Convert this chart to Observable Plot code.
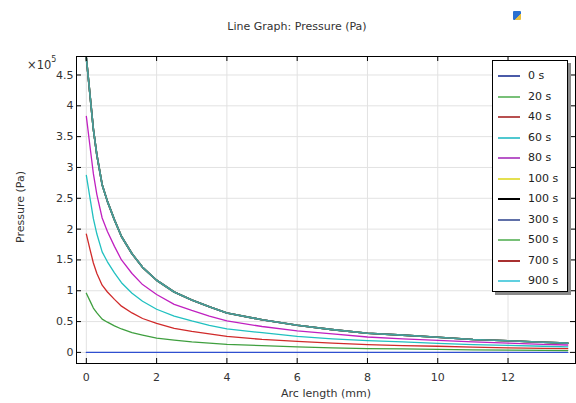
<!DOCTYPE html>
<html><head><meta charset="utf-8">
<script src="https://cdn.jsdelivr.net/npm/d3@7"></script>
<script src="https://cdn.jsdelivr.net/npm/@observablehq/plot@0.6"></script>
<style>
body{margin:0;background:#fff;}
#wrap{position:relative;width:576px;height:403px;font-family:"DejaVu Sans",sans-serif;color:#222;overflow:hidden;background:#fff}
#chart{position:absolute;left:0;top:0}
.t{position:absolute;font-size:11px;white-space:nowrap;line-height:1}
#legend{position:absolute;left:492px;top:60px;width:76px;height:232px;box-sizing:border-box;border:1px solid #000;background:#fff;box-shadow:3px 3px 0 #8a8a8a}
.row{position:absolute;left:0;height:14px;width:74px}
.sw{position:absolute;left:5px;top:6px;width:22px;height:2px}
.lb{position:absolute;left:35px;top:0;font-size:11px;line-height:14px;color:#222}
</style></head><body>
<div id="wrap">
  <div id="chart"></div>
  <div class="t" style="left:297px;top:21px;transform:translateX(-50%);color:#333">Line Graph: Pressure (Pa)</div>
  <div style="position:absolute;left:513px;top:11px;width:8px;height:9px;background:linear-gradient(135deg,#2a6fd0 60%,#e8c040 60%);border-radius:1px"></div>
  <div class="t" style="left:27px;top:58px;color:#333;font-size:11.5px">×10<sup style="font-size:8px;position:relative;top:-2px">5</sup></div>
  <div class="t" style="left:20px;top:207px;transform:translate(-50%,-50%) rotate(-90deg);color:#333">Pressure (Pa)</div>
  <div class="t" style="left:326px;top:388px;transform:translateX(-50%);color:#333">Arc length (mm)</div>
  <div id="legend"></div>
</div>
<script>
// Arc length sample positions (mm)
const arcLength = [0,0.1,0.2,0.3,0.45,0.6,0.8,1.0,1.3,1.6,2,2.5,3,3.5,4,5,6,7,8,9,10,11,12,13,13.7];
// Pressure readings, in units of 1e5 Pa
const p0s   = [0,0,0,0,0,0,0,0,0,0,0,0,0,0,0,0,0,0,0,0,0,0,0,0,0];
const p20s  = [0.96,0.84,0.72,0.64,0.54,0.49,0.43,0.38,0.32,0.28,0.23,0.20,0.17,0.15,0.13,0.11,0.09,0.075,0.062,0.056,0.049,0.042,0.038,0.033,0.03];
const p40s  = [1.92,1.68,1.45,1.28,1.09,0.98,0.86,0.75,0.64,0.55,0.47,0.39,0.34,0.30,0.26,0.21,0.18,0.15,0.125,0.11,0.10,0.085,0.075,0.065,0.06];
const p60s  = [2.87,2.52,2.17,1.92,1.63,1.47,1.29,1.13,0.96,0.83,0.70,0.59,0.51,0.44,0.38,0.32,0.26,0.22,0.19,0.17,0.145,0.125,0.115,0.10,0.09];
const p80s  = [3.83,3.36,2.90,2.56,2.18,1.96,1.72,1.50,1.28,1.10,0.94,0.78,0.68,0.59,0.51,0.42,0.35,0.30,0.25,0.22,0.195,0.17,0.15,0.13,0.12];
const p100s = [4.78,4.20,3.62,3.20,2.72,2.45,2.15,1.88,1.60,1.38,1.17,0.98,0.85,0.74,0.64,0.53,0.44,0.37,0.31,0.28,0.245,0.21,0.19,0.165,0.15];
// Later times coincide with the 100 s curve in the reference
const p300s = p100s, p500s = p100s, p700s = p100s, p900s = p100s;

const seriesLabels = ["0 s","20 s","40 s","60 s","80 s","100 s","100 s","300 s","500 s","700 s","900 s"];
const seriesValues = [p0s,p20s,p40s,p60s,p80s,p100s,p100s,p300s,p500s,p700s,p900s];
const seriesColors = ["#2f4fd0","#3f9f3f","#d02a2a","#20c0c0","#c020c0","#c8c020","#000000","#2f4fd0","#3f9f3f","#d02a2a","#20c0c0"];
const legendColors = ["#4a5aa8","#78c078","#b85050","#50c8d0","#b858c8","#e4e050","#000000","#6070a8","#78c078","#a83030","#60d0e0"];
const xTicks = [0,2,4,6,8,10,12];
const yTicks = [0,0.5,1,1.5,2,2.5,3,3.5,4,4.5];

const rows = [];
seriesValues.forEach((vals, s) => vals.forEach((p, i) => rows.push({x: arcLength[i], p, s, c: seriesColors[s]})));

const width = 576, height = 403, mL = 76, mR = 1, mT = 56, mB = 40;
const H = height - mT - mB, W = width - mL - mR;

const chart = Plot.plot({
  width, height, marginLeft: mL, marginRight: mR, marginTop: mT, marginBottom: mB,
  style: {fontFamily: "DejaVu Sans, sans-serif", fontSize: "11px", color: "#333", background: "#fff"},
  x: {domain: [-0.28, 13.92], label: null},
  y: {domain: [-0.18, 4.8], label: null},
  color: {type: "identity"},
  marks: [
    Plot.gridX(xTicks, {stroke: "#e2e2e2", strokeOpacity: 1}),
    Plot.gridY(yTicks, {stroke: "#e2e2e2", strokeOpacity: 1}),
    Plot.line(rows.filter(d => d.s < 5), {x: "x", y: "p", z: "s", stroke: "c", strokeWidth: 1.3}),
    Plot.line(rows.filter(d => d.s >= 5), {x: "x", y: "p", z: "s", stroke: "c", strokeWidth: 1.6, strokeOpacity: 0.75}),
    Plot.frame({stroke: "#000"}),
    Plot.tickX(xTicks, {x: d => d, insetTop: H - 5, stroke: "#000"}),
    Plot.tickX(xTicks, {x: d => d, insetBottom: H - 5, stroke: "#000"}),
    Plot.tickY(yTicks, {y: d => d, insetRight: W - 5, stroke: "#000"}),
    Plot.tickY(yTicks, {y: d => d, insetLeft: W - 5, stroke: "#000"}),
    Plot.axisX(xTicks, {tickSize: 0, tickPadding: 10, label: null, fill: "#333"}),
    Plot.axisY(yTicks, {tickSize: 0, tickPadding: 3, label: null, fill: "#333", tickFormat: d => String(d)})
  ]
});
document.getElementById("chart").appendChild(chart);

const legend = document.getElementById("legend");
seriesLabels.forEach((lab, i) => {
  const r = document.createElement("div");
  r.className = "row";
  r.style.top = Math.round(8 + i * 20.5) + "px";
  r.innerHTML = `<div class="sw" style="background:${legendColors[i]}"></div><div class="lb">${lab}</div>`;
  legend.appendChild(r);
});
</script>
</body></html>
